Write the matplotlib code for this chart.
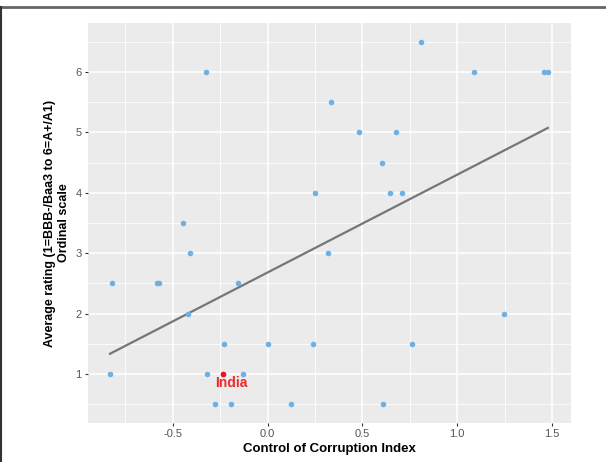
import matplotlib.pyplot as plt
import numpy as np
from matplotlib.lines import Line2D

# control of corruption index vs average rating
cci = np.array([0.807, -0.323, 1.089, 1.457, 1.478, 0.332, 0.484, 0.675, 0.604,
                0.248, 0.646, 0.709, -0.447, -0.409, 0.317, -0.821, -0.585, -0.573,
                -0.154, -0.419, 1.246, -0.230, 0.0, 0.240, 0.764, -0.831, -0.321,
                -0.234, -0.128, -0.276, -0.193, 0.126, 0.606])
rating = np.array([6.5, 6, 6, 6, 6, 5.5, 5, 5, 4.5,
                   4, 4, 4, 3.5, 3, 3, 2.5, 2.5, 2.5,
                   2.5, 2, 2, 1.5, 1.5, 1.5, 1.5, 1, 1,
                   1, 1, 0.5, 0.5, 0.5, 0.5])
india_x = -0.234
india_y = 1.0

plt.rcParams['font.family'] = ['Liberation Sans', 'DejaVu Sans']

fig = plt.figure(figsize=(6.06, 4.62), dpi=100)
ax = fig.add_axes([88 / 606, 1 - 423 / 462, (571 - 88) / 606, (423 - 23) / 462])
ax.set_facecolor('#ebebeb')

# gridlines ggplot style
ax.set_xticks([-0.5, 0.0, 0.5, 1.0, 1.5])
ax.set_xticks([-0.75, -0.25, 0.25, 0.75, 1.25], minor=True)
ax.set_yticks([1, 2, 3, 4, 5, 6])
ax.set_yticks([0.5, 1.5, 2.5, 3.5, 4.5, 5.5, 6.5], minor=True)
ax.grid(True, which='major', color='white', linewidth=1.1)
ax.grid(True, which='minor', color='white', linewidth=0.55)
ax.set_axisbelow(True)
for s in ax.spines.values():
    s.set_visible(False)
ax.tick_params(which='major', length=2.5, color='#333333', labelcolor='#555555', labelsize=8, pad=2)
ax.tick_params(which='minor', length=0)
ax.set_xticklabels(['-0.5', '0.0', '0.5', '1.0', '1.5'])

# regression line
k, b = np.polyfit(cci, rating, 1)
xs = np.array([cci.min(), cci.max()])
ax.plot(xs, k * xs + b, color='#767676', linewidth=1.6, zorder=2)

ax.scatter(cci, rating, s=16, color='#6fb0e2', zorder=3, linewidths=0)
ax.scatter([india_x], [india_y], s=16, color='#f0131e', zorder=4, linewidths=0)
ax.text(india_x + 0.045, india_y - 0.03, 'India', color='#ee2a2a', fontsize=10,
        fontweight='bold', ha='center', va='top')

ax.set_xlim(-0.947, 1.6)
ax.set_ylim(0.19, 6.81)
ax.set_xlabel('Control of Corruption Index', fontsize=9.5, fontweight='bold', labelpad=3)
ax.set_ylabel('Average rating (1=BBB-/Baa3 to 6=A+/A1)\nOrdinal scale', fontsize=9,
              fontweight='bold', labelpad=4)

# outer frame lines
fig.add_artist(Line2D([0, 1], [1 - 7 / 462, 1 - 7 / 462], color='#666666', linewidth=2))
fig.add_artist(Line2D([0.5 / 606, 0.5 / 606], [0, 1 - 7 / 462], color='#333333', linewidth=1.5))

fig.savefig('out.png', dpi=100)
